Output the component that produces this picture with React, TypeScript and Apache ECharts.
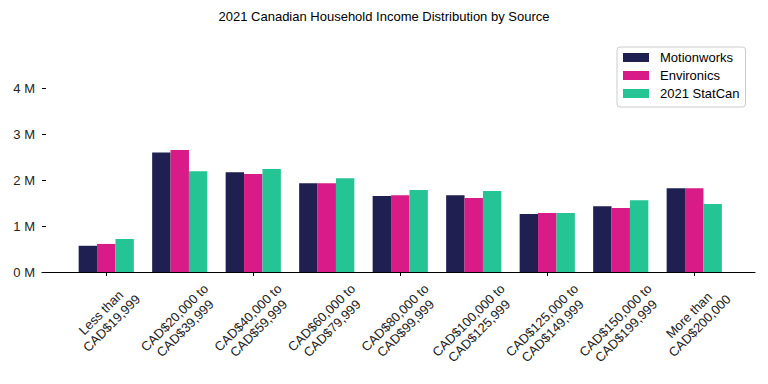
import React, { useEffect, useRef } from 'react';
import * as echarts from 'echarts';

const title = '2021 Canadian Household Income Distribution by Source';
const categories = [
  'Less than\nCAD$19,999',
  'CAD$20,000 to\nCAD$39,999',
  'CAD$40,000 to\nCAD$59,999',
  'CAD$60,000 to\nCAD$79,999',
  'CAD$80,000 to\nCAD$99,999',
  'CAD$100,000 to\nCAD$125,999',
  'CAD$125,000 to\nCAD$149,999',
  'CAD$150,000 to\nCAD$199,999',
  'More than\nCAD$200,000',
];
const seriesNames = ['Motionworks', 'Environics', '2021 StatCan'];
const motionworks = [570000, 2600000, 2170000, 1930000, 1650000, 1670000, 1260000, 1430000, 1820000];
const environics = [610000, 2650000, 2130000, 1930000, 1670000, 1610000, 1280000, 1390000, 1820000];
const statcan = [720000, 2190000, 2240000, 2040000, 1780000, 1760000, 1280000, 1560000, 1480000];
const yTicks = [0, 1000000, 2000000, 3000000, 4000000];

const COLORS = ['#1f1f52', '#d81b87', '#25c494'];
const FONT = '"Liberation Sans", Arial, Helvetica, sans-serif';
const FS = 13;
const LINE_H = 15;
const LABEL_GAP = 9;

function measure(lines: string[]): number {
  const c = document.createElement('canvas').getContext('2d');
  if (!c) return lines.reduce((m, l) => Math.max(m, l.length * 7), 0);
  c.font = `${FS}px ${FONT}`;
  return lines.reduce((m, l) => Math.max(m, c.measureText(l).width), 0);
}

export default function App() {
  const ref = useRef<HTMLDivElement>(null);
  useEffect(() => {
    if (!ref.current) return;
    const chart = echarts.init(ref.current, null, { renderer: 'svg' });
    const values = [motionworks, environics, statcan];
    const yMax = yTicks[yTicks.length - 1];
    chart.setOption({
      animation: false,
      backgroundColor: '#fff',
      textStyle: { fontFamily: FONT },
      title: {
        text: title,
        left: 'center',
        top: 5,
        textStyle: { fontFamily: FONT, fontSize: FS, fontWeight: 'normal', color: '#000' },
      },
      legend: {
        orient: 'vertical',
        left: 617,
        top: 47,
        padding: [4, 6, 7, 6],
        borderColor: '#cccccc',
        borderWidth: 1,
        borderRadius: 3,
        icon: 'rect',
        itemWidth: 26,
        itemHeight: 9,
        itemGap: 5,
        textStyle: { fontFamily: FONT, fontSize: FS, color: '#000', lineHeight: 13, padding: [0, 0, 0, 6] },
        data: seriesNames,
      },
      grid: [
        { left: 69.5, right: 37, top: 88, bottom: 112, outerBoundsMode: 'none', containLabel: false },
        { left: 42, right: 13, top: 88, bottom: 112, outerBoundsMode: 'none', containLabel: false },
      ],
      xAxis: [
        {
          type: 'category',
          gridIndex: 0,
          data: categories,
          axisLine: { show: false },
          axisTick: { show: true, alignWithLabel: true, length: 4, lineStyle: { color: '#000' } },
          axisLabel: { show: false },
        },
        {
          type: 'value',
          gridIndex: 1,
          min: 0,
          max: 1,
          axisLine: { show: true, onZero: false, lineStyle: { color: '#000', width: 1.2 } },
          axisTick: { show: false },
          axisLabel: { show: false },
          splitLine: { show: false },
        },
      ],
      yAxis: [
        { type: 'value', gridIndex: 0, min: 0, max: yMax, show: false, splitLine: { show: false } },
        {
          type: 'value',
          gridIndex: 1,
          min: 0,
          max: yMax,
          interval: 1000000,
          axisLine: { show: false },
          axisTick: { show: true, inside: true, length: 4, lineStyle: { color: '#000' } },
          axisLabel: {
            margin: 7,
            fontFamily: FONT,
            fontSize: FS,
            color: '#222',
            formatter: (v: number) => `${v / 1000000} M`,
          },
          splitLine: { show: false },
        },
      ],
      series: seriesNames.map((name, i) => ({
        name,
        type: 'bar',
        xAxisIndex: 0,
        yAxisIndex: 0,
        data: values[i],
        barWidth: 18.4,
        barGap: '0%',
        itemStyle: { color: COLORS[i] },
      })),
    });

    // Rotated category labels, centred under each tick like matplotlib (ha=center, rotation=45)
    const labelEls = categories.map((c, i) => {
      const lines = c.split('\n');
      const w = measure(lines);
      const h = lines.length * LINE_H;
      const pt = chart.convertToPixel({ xAxisIndex: 0, yAxisIndex: 0 }, [i, 0]) as number[];
      const half = (w + h) * Math.SQRT1_2 / 2;
      return {
        type: 'text',
        x: pt[0],
        y: pt[1] + LABEL_GAP + half,
        rotation: Math.PI / 4,
        silent: true,
        style: {
          text: c,
          align: 'center',
          verticalAlign: 'middle',
          fontFamily: FONT,
          fontSize: FS,
          lineHeight: LINE_H,
          fill: '#222',
        },
      };
    });
    chart.setOption({ graphic: labelEls });
    return () => chart.dispose();
  }, []);
  return <div ref={ref} style={{ width: 768, height: 384, position: 'absolute', left: 0, top: 0 }} />;
}
